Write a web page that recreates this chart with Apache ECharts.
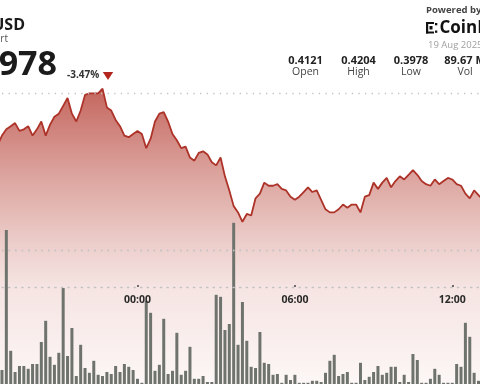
<!DOCTYPE html>
<html><head><meta charset="utf-8">
<script src="https://cdn.jsdelivr.net/npm/echarts@6/dist/echarts.min.js"></script>
<style>html,body{margin:0;padding:0;background:#fff;overflow:hidden}#c{width:480px;height:384px}</style>
</head><body><div id="c"></div>
<script>
const categories = [
"18:40","18:50",
"19:00","19:10","19:20","19:30","19:40","19:50",
"20:00","20:10","20:20","20:30","20:40","20:50",
"21:00","21:10","21:20","21:30","21:40","21:50",
"22:00","22:10","22:20","22:30","22:40","22:50",
"23:00","23:10","23:20","23:30","23:40","23:50",
"00:00","00:10","00:20","00:30","00:40","00:50",
"01:00","01:10","01:20","01:30","01:40","01:50",
"02:00","02:10","02:20","02:30","02:40","02:50",
"03:00","03:10","03:20","03:30","03:40","03:50",
"04:00","04:10","04:20","04:30","04:40","04:50",
"05:00","05:10","05:20","05:30","05:40","05:50",
"06:00","06:10","06:20","06:30","06:40","06:50",
"07:00","07:10","07:20","07:30","07:40","07:50",
"08:00","08:10","08:20","08:30","08:40","08:50",
"09:00","09:10","09:20","09:30","09:40","09:50",
"10:00","10:10","10:20","10:30","10:40","10:50",
"11:00","11:10","11:20","11:30","11:40","11:50",
"12:00","12:10","12:20","12:30","12:40","12:50",
"13:00","13:10"];

const priceValues = [
0.4167,0.4173,
0.4177,0.4179,0.4181,0.4176,0.4177,0.4179,
0.4173,0.4177,0.4182,0.4173,0.4180,0.4185,
0.4187,0.4192,0.4197,0.4187,0.4182,0.4189,
0.4199,0.4200,0.4200,0.4200,0.4203,0.4191,
0.4189,0.4183,0.4179,0.4173,0.4172,0.4174,
0.4176,0.4174,0.4165,0.4171,0.4182,0.4187,
0.4188,0.4182,0.4174,0.4170,0.4165,0.4166,
0.4159,0.4157,0.4162,0.4163,0.4161,0.4156,
0.4154,0.4159,0.4147,0.4138,0.4128,0.4124,
0.4118,0.4123,0.4122,0.4133,0.4136,0.4143,
0.4141,0.4141,0.4142,0.4139,0.4138,0.4134,
0.4132,0.4134,0.4137,0.4140,0.4137,0.4138,
0.4132,0.4126,0.4124,0.4124,0.4126,0.4129,
0.4127,0.4129,0.4129,0.4124,0.4134,0.4135,
0.4143,0.4139,0.4143,0.4146,0.4140,0.4144,
0.4147,0.4145,0.4148,0.4151,0.4148,0.4144,
0.4142,0.4141,0.4145,0.4142,0.4144,0.4146,
0.4145,0.4142,0.4141,0.4136,0.4133,0.4138,
0.4135,0.4132];

const volumeValues = [
0.40,0.45,
3.95,0.93,0.40,0.55,0.55,0.48,
0.60,0.60,1.15,1.68,0.78,0.58,
0.88,2.50,0.80,1.50,0.30,1.08,
0.50,0.38,0.68,0.33,0.30,0.40,
0.35,0.55,0.40,0.60,0.53,0.45,
0.23,0.13,2.18,1.88,0.43,0.58,
1.73,0.35,0.43,1.38,0.33,0.43,
1.03,0.23,0.23,0.30,0.15,0.15,
2.33,2.28,1.45,1.60,4.13,1.08,
2.15,1.18,0.53,0.50,1.40,0.63,
0.60,0.33,0.35,0.13,0.33,0.20,
0.33,0.13,0.13,0.13,0.18,0.18,
0.15,0.38,0.68,0.83,0.30,0.35,
0.40,0.13,0.13,0.63,0.20,0.28,
0.40,0.55,0.33,0.38,0.53,0.53,
0.15,0.33,0.15,0.85,0.70,0.13,
0.13,0.23,0.48,0.33,0.13,0.13,
0.13,0.60,0.53,1.63,1.28,0.38,
0.18,0.58];

const tickLabels = ["00:00","06:00","12:00"];
const priceGridTicks = [0.41, 0.415, 0.42];
const pairName = "XLM-USD";
const subTitle = "24H Chart";
const lastPrice = "0.3978";
const changeText = "-3.47%";
const statValues = ["0.4121","0.4204","0.3978","89.67 M"];
const statLabels = ["Open","High","Low","Vol"];
const dateText = "19 Aug 2025";

const FONT = '"Open Sans","Noto Sans",sans-serif';
const statX = [305.5, 358.5, 411, 465];
const gridLeft = -4.59, gridWidth = 489.66;
const showTick = (i, v) => tickLabels.indexOf(v) >= 0;
const dotted = {color:'#c2c2c2', width:1.3, type:[1.3,5.3]};

const graphic = [
  {type:'text', x:25, y:25, style:{text:pairName, textAlign:'right', textVerticalAlign:'middle', font:'bold 16px '+FONT, fill:'#1a1a1a'}},
  {type:'text', x:8, y:39.5, style:{text:subTitle, textAlign:'right', textVerticalAlign:'middle', font:'10px '+FONT, fill:'#555'}},
  {type:'text', x:57, y:65, style:{text:lastPrice, textAlign:'right', textVerticalAlign:'middle', font:'bold 34px '+FONT, fill:'#1b1b1b'}},
  {type:'text', x:67, y:75, style:{text:changeText, textAlign:'left', textVerticalAlign:'middle', font:'bold 10px '+FONT, fill:'#333'}},
  {type:'polygon', shape:{points:[[102.8,72],[113.2,72],[108,80]]}, style:{fill:'#b3261e'}},
  {type:'text', x:426, y:10.5, style:{text:'Powered by', textAlign:'left', textVerticalAlign:'middle', font:'bold 9.5px '+FONT, fill:'#444'}},
  {type:'rect', shape:{x:426,y:22,width:8,height:2}, style:{fill:'#111'}},
  {type:'rect', shape:{x:426,y:22,width:2.2,height:11.5}, style:{fill:'#111'}},
  {type:'rect', shape:{x:426,y:31.5,width:8,height:2}, style:{fill:'#111'}},
  {type:'rect', shape:{x:429.5,y:26,width:3,height:3.5}, style:{fill:'#111'}},
  {type:'rect', shape:{x:435,y:23,width:2.3,height:2.3}, style:{fill:'#111'}},
  {type:'rect', shape:{x:435,y:30.5,width:2.3,height:2.3}, style:{fill:'#111'}},
  {type:'text', x:439.5, y:28, style:{text:'CoinDesk', textAlign:'left', textVerticalAlign:'middle', font:'bold 17px '+FONT, fill:'#111'}},
  {type:'text', x:428, y:45.5, style:{text:dateText, textAlign:'left', textVerticalAlign:'middle', font:'9.5px '+FONT, fill:'#a0a0a0'}}
];
statValues.forEach((t, i) => {
  graphic.push({type:'text', x:statX[i], y:61, style:{text:t, textAlign:'center', textVerticalAlign:'middle', font:'bold 11px '+FONT, fill:'#222'}});
  graphic.push({type:'text', x:statX[i], y:72.5, style:{text:statLabels[i], textAlign:'center', textVerticalAlign:'middle', font:'10.5px '+FONT, fill:'#444'}});
});

const chart = echarts.init(document.getElementById('c'), null, {renderer:'canvas'});
chart.setOption({
  animation:false,
  backgroundColor:'#ffffff',
  grid:[
    {left:gridLeft, width:gridWidth, top:14.95, height:470.1, outerBoundsMode:'none', containLabel:false},
    {left:gridLeft, width:gridWidth, top:188, height:200, outerBoundsMode:'none', containLabel:false},
    {left:gridLeft, width:gridWidth, top:0, height:287, outerBoundsMode:'none', containLabel:false}
  ],
  xAxis:[
    {gridIndex:0, type:'category', data:categories, show:false},
    {gridIndex:1, type:'category', data:categories, show:false},
    {gridIndex:2, type:'category', data:categories, z:10,
      axisLine:{show:true, lineStyle:dotted},
      axisTick:{show:true, inside:true, length:2, alignWithLabel:true, interval:showTick, lineStyle:{color:'#444', width:1.5}},
      axisLabel:{show:true, interval:showTick, color:'#2a2a2a', fontWeight:'bold', fontSize:10.5, fontFamily:FONT, margin:8},
      splitLine:{show:false}}
  ],
  yAxis:[
    {gridIndex:0, type:'value', min:0.395, max:0.425, show:false},
    {gridIndex:1, type:'value', min:0, max:5, show:false},
    {gridIndex:2, type:'value', show:false}
  ],
  graphic: graphic,
  series:[
    {type:'line', xAxisIndex:0, yAxisIndex:0, data:priceValues, symbol:'none', showSymbol:false, z:2,
      lineStyle:{color:'#ad3329', width:1.8},
      areaStyle:{origin:'start', opacity:1, color:{type:'linear', x:0, y:88, x2:0, y2:384, global:true,
        colorStops:[{offset:0,color:'#c4665e'},{offset:0.28,color:'#dba19b'},{offset:0.55,color:'#eed2cf'},{offset:0.67,color:'#f5e4e2'},{offset:1,color:'#fcf7f6'}]}},
      markLine:{silent:true, symbol:'none', label:{show:false}, animation:false,
        lineStyle:dotted,
        data: priceGridTicks.map(v => ({yAxis:v}))}},
    {type:'bar', xAxisIndex:1, yAxisIndex:1, data:volumeValues, barWidth:3, z:3, clip:false,
      itemStyle:{color:'#6f736e'}}
  ]
});
</script></body></html>
